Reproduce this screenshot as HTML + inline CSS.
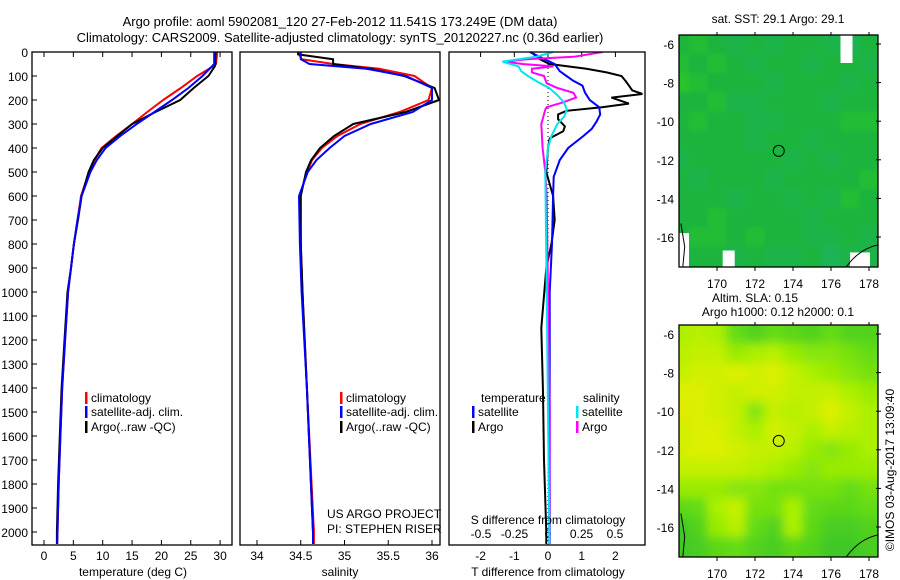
<!DOCTYPE html>
<html><head><meta charset="utf-8"><style>
html,body{margin:0;padding:0;background:#fff;}
svg{display:block;font-family:"Liberation Sans",sans-serif;}
text{font-size:12px;fill:#000;}
</style></head><body>
<svg id="chart" width="900" height="580" viewBox="0 0 900 580">
<defs>
<clipPath id="c1"><rect x="32" y="52" width="200" height="493"/></clipPath>
<clipPath id="c2"><rect x="240" y="52" width="200" height="493"/></clipPath>
<clipPath id="c3"><rect x="449" y="52" width="196" height="493"/></clipPath>
<clipPath id="m1"><rect x="679" y="35" width="199" height="232"/></clipPath>
<clipPath id="m2"><rect x="679" y="325" width="199" height="232"/></clipPath>
<filter id="blur" x="-10%" y="-10%" width="120%" height="120%"><feGaussianBlur stdDeviation="5"/></filter>
<filter id="blur2" x="-10%" y="-10%" width="120%" height="120%"><feGaussianBlur stdDeviation="2"/></filter>
</defs>
<text x="340" y="26" text-anchor="middle" style="font-size:13px">Argo profile: aoml 5902081_120 27-Feb-2012 11.541S 173.249E (DM data)</text>
<text x="340" y="42" text-anchor="middle" style="font-size:13px">Climatology: CARS2009. Satellite-adjusted climatology: synTS_20120227.nc (0.36d earlier)</text>
<g id="g1"></g>
<g id="g2"></g>
<g id="g3"></g>
<g id="gm1"></g>
<g id="gm2"></g>
<text transform="translate(894,470) rotate(-90)" text-anchor="middle">©IMOS 03-Aug-2017 13:09:40</text>
</svg>
<script>
// ---- temperature profile data ----
const depthT = [0,50,60,100,150,200,250,300,350,400,450,500,600,700,800,900,1000,1200,1400,1600,1800,2000,2050];
const climT = [29.5,29.3,28.8,26.1,23.3,20.3,17.6,15.0,12.3,9.8,8.6,7.7,6.3,5.7,5.1,4.6,4.1,3.6,3.1,2.8,2.5,2.3,2.25];
const satT  = [29.0,29.0,28.6,27.0,24.6,21.8,18.8,15.8,13.0,10.5,9.0,7.9,6.4,5.7,5.1,4.6,4.1,3.6,3.1,2.8,2.5,2.3,2.25];
const argoT = [29.2,29.2,29.1,28.0,25.5,23.2,19.0,15.0,12.5,10.0,8.5,7.6,6.4,5.8,5.1,4.6,4.0,3.5,3.0,2.7,2.4,2.2,2.2];
// ---- salinity profile data ----
const depthS = [0,10,30,50,70,100,150,200,250,300,350,400,450,500,600,800,1000,1400,2000,2050];
const climS = [34.47,34.48,34.51,34.87,35.4,35.8,36.0,35.96,35.63,35.18,34.92,34.74,34.63,34.57,34.49,34.5,34.52,34.57,34.65,34.65];
const satS  = [34.5,34.5,34.5,34.6,35.25,35.7,36.0,36.0,35.78,35.3,35.0,34.83,34.68,34.58,34.48,34.49,34.51,34.57,34.64,34.64];
const argoS = [34.47,34.47,34.87,34.87,35.3,35.68,36.03,36.08,35.7,35.1,34.88,34.72,34.62,34.56,34.5,34.5,34.52,34.57,34.64,34.64];
// ---- difference data ----
const depthDT = [0,20,50,80,100,120,140,170,200,230,260,290,320,350,400,450,520,600,800,1000,1400,2000,2050];
const satDT = [-0.54,-0.25,0.2,0.35,0.55,0.75,1.02,1.1,1.24,1.52,1.55,1.44,1.3,1.05,0.6,0.35,0.17,0.15,0.12,0.05,0.05,0.05,0.05];
const depthAT = [0,30,50,70,85,100,120,140,160,175,190,215,230,245,260,280,310,330,360,400,500,600,700,800,900,1150,1400,1700,2000,2050];
const argoDT = [-0.5,-0.25,0.05,1.14,1.74,2.18,2.3,2.4,2.5,2.8,1.88,2.4,1.6,0.55,0.3,0.3,0.5,0.45,0.05,0,-0.05,0.15,0.2,0.1,-0.05,-0.2,-0.15,-0.12,-0.05,-0.05];
const depthSS = [0,20,40,60,80,100,130,150,180,210,240,270,300,350,400,500,1000,2000,2050];
const satDS = [0.04,-0.09,-0.34,-0.22,-0.2,-0.15,-0.06,0.01,0.07,0.12,0.14,0.12,0.07,0.025,0,-0.02,-0.01,0.01,0.01];
const depthAS = [0,20,30,40,50,60,70,85,100,130,150,170,190,210,230,240,300,400,500,600,1000,1500,2000,2050];
const argoDS = [0.41,0.19,-0.16,-0.32,-0.19,0.04,-0.12,-0.12,-0.03,-0.01,0.07,0.19,0.21,0.11,-0.01,-0.02,-0.05,-0.04,-0.02,-0.01,0,0.013,0.01,0.01];
// ---- tick labels ----
const depthTicks = [0,100,200,300,400,500,600,700,800,900,1000,1100,1200,1300,1400,1500,1600,1700,1800,1900,2000];
const tTicks = [0,5,10,15,20,25,30];
const sTicks = [34,34.5,35,35.5,36];
const dTTicks = [-2,-1,0,1,2];
const dSTicks = [-0.5,-0.25,0,0.25,0.5];
const lonTicks = [170,172,174,176,178];
const latTicks = [-6,-8,-10,-12,-14,-16];
// ---- map grids (rows lat -6..-17, cols lon 168..178) ----
const sstGrid = [
[.5,.6,.5,.4,.5,.4,.5,.5,.4,.3,.5],[.6,.5,.6,.5,.4,.5,.5,.4,.5,.5,.4],[.7,.6,.5,.5,.5,.4,.5,.5,.5,.4,.5],
[.5,.5,.6,.4,.4,.5,.5,.5,.4,.5,.5],[.5,.6,.5,.5,.4,.4,.5,.5,.5,.6,.6],[.5,.5,.5,.5,.4,.5,.5,.4,.5,.5,.5],
[.4,.5,.5,.5,.5,.5,.4,.5,.4,.5,.5],[.5,.4,.5,.5,.5,.4,.5,.5,.5,.5,.6],[.5,.5,.5,.4,.5,.5,.4,.5,.4,.6,.5],
[.5,.5,.6,.5,.5,.5,.5,.4,.5,.5,.5],[.5,.6,.6,.5,.6,.5,.5,.4,.4,.5,.4],[.4,.5,.5,.4,.5,.4,.4,.5,.3,.4,.4]];
const slaGrid = [
[.6,.65,.6,.4,.3,.4,.35,.3,.4,.3,.3],[.65,.7,.7,.55,.6,.65,.55,.5,.5,.45,.4],[.7,.75,.75,.8,.75,.8,.7,.6,.55,.5,.45],
[.8,.8,.75,.7,.75,.75,.7,.7,.7,.6,.55],[.85,.8,.75,.7,.5,.7,.65,.7,.8,.7,.6],[.75,.8,.8,.7,.6,.75,.7,.6,.7,.65,.6],
[.75,.8,.8,.75,.7,.7,.65,.55,.5,.55,.6],[.7,.7,.7,.7,.65,.6,.55,.5,.55,.55,.55],[.55,.55,.55,.5,.5,.45,.45,.45,.45,.4,.45],
[.35,.4,.6,.7,.45,.45,.6,.4,.35,.35,.4],[.2,.3,.55,.65,.4,.3,.6,.35,.25,.25,.3],[.2,.25,.35,.4,.3,.25,.35,.3,.2,.2,.25]];

const NS='http://www.w3.org/2000/svg';
function mk(parent,tag,attrs){const e=document.createElementNS(NS,tag);for(const k in attrs)e.setAttribute(k,attrs[k]);parent.appendChild(e);return e;}
const yD = d => 52 + d*0.24;
const xT = t => 44 + t*5.87;
const xS = s => 257 + (s-34)*87.5;
const xDT = v => 548 + v*33.7;
const xDS = v => 548 + v*134;

function line(g,depths,vals,xf,color,clip,name){
  const p=depths.map((d,i)=>(i?'L':'M')+xf(vals[i]).toFixed(1)+','+yD(d).toFixed(1)).join('');
  const e=mk(g,'path',{d:p,fill:'none',stroke:color,'stroke-width':2,'clip-path':'url(#'+clip+')'});
  
  
}
function frame(g,x,y,w,h,name){
  const e=mk(g,'rect',{x:x,y:y,width:w,height:h,fill:'none',stroke:'#000','stroke-width':1.3});
  
  
}
function txt(g,x,y,s,anchor,name){
  const e=mk(g,'text',{x:x,y:y,'text-anchor':anchor||'start'});e.textContent=s;
  
  
  return e;
}
function legend(g,x,y,color,label){
  mk(g,'rect',{x:x,y:y-10,width:2.5,height:12,fill:color});
  txt(g,x+6,y,label,'start','legend-entry');
}

// panel 1
const g1=document.getElementById('g1');
depthTicks.forEach(d=>{txt(g1,28,yD(d)+5,String(d),'end','y-tick-label');mk(g1,'line',{x1:32,x2:37,y1:yD(d),y2:yD(d),stroke:'#000'});});
tTicks.forEach(t=>{txt(g1,xT(t),560,String(t),'middle','x-tick-label');mk(g1,'line',{x1:xT(t),x2:xT(t),y1:52,y2:57,stroke:'#000'});mk(g1,'line',{x1:xT(t),x2:xT(t),y1:540,y2:545,stroke:'#000'});});
line(g1,depthT,climT,xT,'#ff0000','c1','climatology-temp-line');
line(g1,depthT,argoT,xT,'#000000','c1','argo-temp-line');
line(g1,depthT,satT,xT,'#0000ff','c1','satellite-temp-line');
frame(g1,32,52,200,493,'temperature-frame');
txt(g1,133,576,'temperature (deg C)','middle','x-axis-title');
legend(g1,85,402,'#ff0000','climatology');legend(g1,85,416,'#0000ff','satellite-adj. clim.');legend(g1,85,431,'#000','Argo(..raw -QC)');

// panel 2
const g2=document.getElementById('g2');
sTicks.forEach(s=>{txt(g2,xS(s),560,String(s),'middle','x-tick-label');mk(g2,'line',{x1:xS(s),x2:xS(s),y1:540,y2:545,stroke:'#000'});});
line(g2,depthS,climS,xS,'#ff0000','c2','climatology-sal-line');
line(g2,depthS,argoS,xS,'#000000','c2','argo-sal-line');
line(g2,depthS,satS,xS,'#0000ff','c2','satellite-sal-line');
frame(g2,240,52,200,493,'salinity-frame');
txt(g2,340,576,'salinity','middle','x-axis-title');
legend(g2,340,402,'#ff0000','climatology');legend(g2,340,416,'#0000ff','satellite-adj. clim.');legend(g2,340,431,'#000','Argo(..raw -QC)');
txt(g2,327,518,'US ARGO PROJECT','start','project-label');txt(g2,327,533,'PI: STEPHEN RISER','start','pi-label');

// panel 3
const g3=document.getElementById('g3');
mk(g3,'line',{x1:548,x2:548,y1:52,y2:545,stroke:'#000','stroke-dasharray':'1,3'});
dTTicks.forEach(t=>{txt(g3,xDT(t),560,String(t),'middle','x-tick-label');mk(g3,'line',{x1:xDT(t),x2:xDT(t),y1:52,y2:57,stroke:'#000'});});
dSTicks.forEach(s=>{txt(g3,xDS(s),538,String(s),'middle','s-tick-label');});
line(g3,depthAT,argoDT,xDT,'#000000','c3','argo-temp-diff-line');
line(g3,depthDT,satDT,xDT,'#0000ff','c3','satellite-temp-diff-line');
line(g3,depthAS,argoDS,xDS,'#ff00ff','c3','argo-sal-diff-line');
line(g3,depthSS,satDS,xDS,'#00e5ee','c3','satellite-sal-diff-line');
frame(g3,449,52,196,493,'difference-frame');
txt(g3,548,524,'S difference from climatology','middle','s-axis-title');
txt(g3,548,576,'T difference from climatology','middle','t-axis-title');
txt(g3,481,402,'temperature','start','legend-title');txt(g3,583,402,'salinity','start','legend-title');
legend(g3,472,416,'#0000ff','satellite');legend(g3,472,431,'#000','Argo');
legend(g3,576,416,'#00e5ee','satellite');legend(g3,576,431,'#ff00ff','Argo');

// maps
function lerp(a,b,t){return a.map((v,i)=>Math.round(v+(b[i]-v)*t));}
function cmap(stops,v){for(let i=1;i<stops.length;i++){if(v<=stops[i][0]){const t=(v-stops[i-1][0])/(stops[i][0]-stops[i-1][0]);const c=lerp(stops[i-1][1],stops[i][1],t);return 'rgb('+c.join(',')+')';}}const c=stops[stops.length-1][1];return 'rgb('+c.join(',')+')';}
const sstStops=[[0,[20,180,120]],[0.5,[30,180,60]],[1,[60,220,20]]];
const slaStops=[[0,[30,180,60]],[0.4,[100,220,20]],[0.6,[170,240,0]],[0.8,[220,240,0]],[1,[240,215,0]]];
function map(gid,top,grid,stops,clip,blur,title1,title2){
  const g=document.getElementById(gid);
  const mx=lon=>717+(lon-170)*19, my=lat=>top+9+(-6-lat)*19.3;
  const outer=mk(g,'g',{'clip-path':'url(#'+clip+')'});
  const cg=mk(outer,'g',{filter:'url(#'+blur+')'});
  grid.forEach((row,r)=>row.forEach((v,c)=>{
    const lon=168+c, lat=-6-r;
    let x=mx(lon-0.5), y=my(lat+0.5), w=19.5, h=19.8;
    if(c===0){x-=12;w+=12;} if(c===row.length-1){w+=12;}
    if(r===0){y-=12;h+=12;} if(r===grid.length-1){h+=12;}
    const cell=mk(cg,'rect',{x:x,y:y,width:w,height:h,fill:cmap(stops,v)});
    
    
  }));
  if(gid==='gm1'){
    mk(outer,'rect',{x:mx(176.5),y:top,width:12,height:28,fill:'#fff'});
    mk(outer,'rect',{x:679,y:my(-15.8),width:10,height:40,fill:'#fff'});
    mk(outer,'rect',{x:mx(170.3),y:my(-16.7),width:12,height:30,fill:'#fff'});
    mk(outer,'rect',{x:mx(177),y:my(-16.8),width:20,height:30,fill:'#fff'});
  }
  mk(outer,'path',{d:'M'+mx(176.8)+','+(top+232)+' Q'+mx(177.5)+','+my(-16.6)+' '+mx(178.5)+','+my(-16.4),fill:'none',stroke:'#000'});
  mk(outer,'path',{d:'M'+mx(168.1)+','+my(-15.3)+' L'+mx(168.3)+','+my(-16.5)+' L'+mx(168.2)+','+(top+232),fill:'none',stroke:'#000'});
  const circ=mk(g,'circle',{cx:mx(173.25),cy:my(-11.54),r:5.5,fill:'none',stroke:'#000'});
  
  
  frame(g,679,top,199,232,'map-frame');
  lonTicks.forEach(l=>{txt(g,mx(l),top+253,String(l),'middle','lon-tick-label');mk(g,'line',{x1:mx(l),x2:mx(l),y1:top-3,y2:top,stroke:'#000'});mk(g,'line',{x1:mx(l),x2:mx(l),y1:top+232,y2:top+236,stroke:'#000'});});
  latTicks.forEach(l=>{txt(g,674,my(l)+5,String(l),'end','lat-tick-label');mk(g,'line',{x1:876,x2:881,y1:my(l),y2:my(l),stroke:'#000'});});
  if(title2){txt(g,755,top-23,title1,'middle','map-title');txt(g,778,top-9,title2,'middle','map-subtitle');}
  else txt(g,778,top-12,title1,'middle','map-title');
}
map('gm1',35,sstGrid,sstStops,'m1','blur2','sat. SST: 29.1 Argo: 29.1');
map('gm2',325,slaGrid,slaStops,'m2','blur','Altim. SLA: 0.15','Argo h1000: 0.12 h2000: 0.1');
</script>
</body></html>
